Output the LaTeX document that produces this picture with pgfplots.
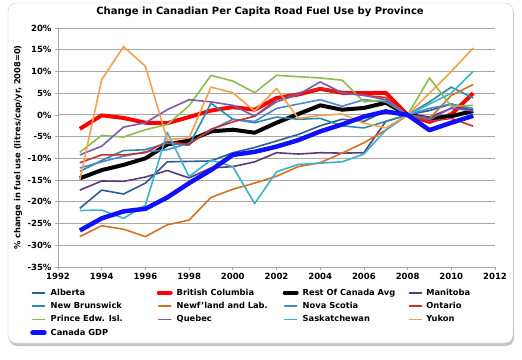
\documentclass[border=0pt]{standalone}
\usepackage{pgfplots}
\pgfplotsset{compat=1.18}
\usepackage{pgfplotstable}
\usepackage{fontspec}
\setmainfont{DejaVu Sans}
\usetikzlibrary{shadows}

\definecolor{cAB}{HTML}{2C5D96}
\definecolor{cBC}{HTML}{FF0000}
\definecolor{cMB}{HTML}{5A3B7C}
\definecolor{cNB}{HTML}{2B8CA8}
\definecolor{cNL}{HTML}{D6721E}
\definecolor{cNS}{HTML}{4A88D0}
\definecolor{cON}{HTML}{C9302C}
\definecolor{cPE}{HTML}{8CBB4E}
\definecolor{cQC}{HTML}{7B5AAB}
\definecolor{cSK}{HTML}{3CB0CC}
\definecolor{cYT}{HTML}{F5A14B}
\definecolor{cGDP}{HTML}{1010FF}
\definecolor{gridgray}{HTML}{A8A8A8}

\pgfplotstableread{
year AB    BC   RC    MB    NB    NL    NS    ON    PE    QC    SK    YT    GDP
1993 -21.5 -3.2 -14.6 -17.3 -13.0 -28.0 -12.2 -11.0 -8.6 -9.2 -22.0 -15.0 -26.6
1994 -17.3 -0.1 -12.7 -15.2 -10.5 -25.5 -10.8 -9.2 -4.7 -7.2 -21.9 8.1 -23.8
1995 -18.2 -0.7 -11.5 -15.3 -8.2 -26.3 -9.5 -9.2 -5.1 -2.8 -23.8 15.7 -22.2
1996 -15.7 -1.8 -10.0 -14.3 -8.0 -28.0 -8.5 -8.7 -3.4 -1.8 -20.8 11.2 -21.6
1997 -10.8 -1.9 -6.8 -12.8 -6.5 -25.3 -8.0 -6.1 -2.2 1.2 -4.0 -5.7 -19.0
1998 -10.7 -0.5 -5.9 -14.5 -7.0 -24.2 -6.5 -6.8 2.1 3.5 -14.2 -5.3 -15.7
1999 -10.6 1.0 -3.8 -12.2 2.7 -19.0 -3.5 -3.3 9.1 3.0 -10.4 6.4 -12.7
2000 -8.7 1.8 -3.4 -11.9 -1.0 -17.1 -1.0 -1.6 7.8 2.2 -11.9 5.1 -9.2
2001 -7.5 1.2 -4.1 -10.8 -1.8 -15.7 -1.5 -0.3 5.1 -0.3 -20.4 0.9 -8.5
2002 -6.0 3.9 -1.8 -8.7 -0.5 -14.1 1.5 3.5 9.1 3.0 -13.1 6.1 -7.3
2003 -4.5 4.7 0.2 -9.0 -1.0 -11.9 2.5 5.0 8.8 4.7 -11.4 -0.8 -5.8
2004 -2.5 6.0 2.2 -8.7 -0.8 -11.0 3.5 6.2 8.5 7.6 -11.1 -0.1 -3.8
2005 -1.0 5.1 1.2 -8.8 -2.5 -8.8 2.0 5.1 8.0 5.1 -10.8 0.2 -2.2
2006 -1.5 5.0 1.6 -8.7 -3.0 -6.4 3.5 4.5 3.0 4.5 -9.0 -1.9 -0.4
2007 1.0 5.1 2.8 -1.5 -1.5 -3.5 3.0 4.0 3.5 3.5 -3.5 -3.0 0.8
2008 0 0 0 0 0 0 0 0 0 0 0 0 0
2009 1.0 -1.6 -0.8 -0.5 3.0 -0.9 1.5 -1.5 8.5 -1.1 2.5 5.0 -3.5
2010 2.5 0.1 -0.3 1.5 6.4 4.5 2.5 -0.8 2.0 1.6 5.0 10.0 -1.8
2011 1.0 5.0 0.9 1.2 3.9 7.0 1.5 -2.6 2.2 0.9 10.0 15.4 -0.2
}\data

\newcommand{\LE}[1]{\makebox[104pt][l]{#1}}

\begin{document}
\begin{tikzpicture}
\useasboundingbox (-58pt,-92pt) rectangle (464pt,267pt);
\fill[white, rounded corners=8pt, drop shadow={shadow xshift=1pt, shadow yshift=-3pt, opacity=0.45}]
  (-50pt,-76pt) rectangle (455pt,264pt);
\draw[gray!40, rounded corners=8pt] (-50pt,-76pt) rectangle (455pt,264pt);
\node[font=\bfseries\fontsize{10}{12}\selectfont] at (202pt,255pt) {Change in Canadian Per Capita Road Fuel Use by Province};
\begin{axis}[
  at={(0pt,0pt)}, anchor=south west,
  scale only axis, width=437pt, height=239pt,
  xmin=1992, xmax=2012, ymin=-35, ymax=20,
  xtick={1992,1994,...,2012},
  xticklabels={1992,1994,1996,1998,2000,2002,2004,2006,2008,2010,2012},
  ytick={-35,-30,...,20},
  yticklabels={-35\%,-30\%,-25\%,-20\%,-15\%,-10\%,-5\%,0\%,5\%,10\%,15\%,20\%},
  axis x line*=bottom, axis y line*=left,
  axis line style={gridgray, line width=0.8pt},
  tick align=outside, major tick length=3pt,
  tick style={gridgray, line width=0.8pt},
  ymajorgrids, grid style={gridgray, line width=0.9pt},
  ticklabel style={font=\bfseries\fontsize{8.5}{10}\selectfont},
  ylabel={\% change in fuel use (litres/cap/yr, 2008=0)},
  ylabel style={font=\bfseries\fontsize{8.3}{10}\selectfont, at={(axis description cs:-0.0915,0.5)}, anchor=center},
  legend columns=4,
  legend cell align=left,
  legend style={at={(axis description cs:-0.064,-0.082)}, anchor=north west,
    draw=none, fill=none, font=\bfseries\fontsize{8.3}{10}\selectfont,
    inner sep=0pt, row sep=1.5pt,
    /tikz/every odd column/.append style={column sep=2pt}},
  legend image code/.code={\draw[#1, line cap=round] (0pt,0pt) -- (12pt,0pt);},
  every axis plot/.append style={line join=round, line width=1.6pt},
]
\addplot[cAB] table[x=year,y=AB] {\data}; \addlegendentry{\LE{Alberta}}
\addplot[cBC, line width=4pt] table[x=year,y=BC] {\data}; \addlegendentry{\LE{British Columbia}}
\addplot[black, line width=4pt] table[x=year,y=RC] {\data}; \addlegendentry{\LE{Rest Of Canada Avg}}
\addplot[cMB] table[x=year,y=MB] {\data}; \addlegendentry{\LE{Manitoba}}
\addplot[cNB] table[x=year,y=NB] {\data}; \addlegendentry{\LE{New Brunswick}}
\addplot[cNL] table[x=year,y=NL] {\data}; \addlegendentry{\LE{Newf'land and Lab.}}
\addplot[cNS] table[x=year,y=NS] {\data}; \addlegendentry{\LE{Nova Scotia}}
\addplot[cON] table[x=year,y=ON] {\data}; \addlegendentry{\LE{Ontario}}
\addplot[cPE] table[x=year,y=PE] {\data}; \addlegendentry{\LE{Prince Edw. Isl.}}
\addplot[cQC] table[x=year,y=QC] {\data}; \addlegendentry{\LE{Quebec}}
\addplot[cSK] table[x=year,y=SK] {\data}; \addlegendentry{\LE{Saskatchewan}}
\addplot[cYT] table[x=year,y=YT] {\data}; \addlegendentry{\LE{Yukon}}
\addplot[cGDP, line width=4.5pt] table[x=year,y=GDP] {\data}; \addlegendentry{\LE{Canada GDP}}
\end{axis}
\end{tikzpicture}
\end{document}
